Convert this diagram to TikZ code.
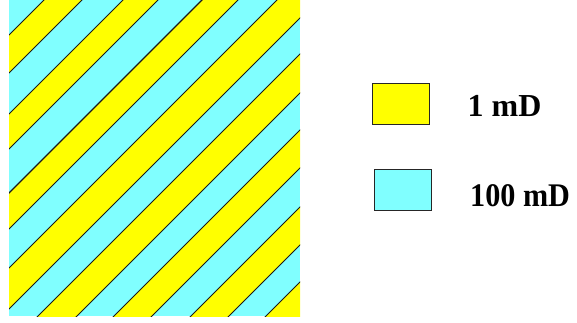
\documentclass[tikz,border=0pt]{standalone}
\usepackage{graphicx}
\usepackage{fontspec}
\setmainfont{Liberation Serif}
\definecolor{stripY}{HTML}{FFFF00}
\definecolor{stripC}{HTML}{80FFFF}
\begin{document}
\begin{tikzpicture}[x=1pt,y=-1pt,
  sepline/.style={black!90,line width=0.75pt},
  legbox/.style={draw=black!85,line width=0.9pt,minimum width=57pt,minimum height=41pt,inner sep=0pt},
  legtext/.style={anchor=base west,inner sep=0pt}]
\useasboundingbox (0,0) rectangle (577,322);
\begin{scope}
  \clip (9,0) rectangle (300,316);
  \fill[stripC] (9,0) rectangle (300,316);
  \foreach \a/\b in {44/82,123/158,202/238,277/318,354/393,430/468,507/545,582/800}{
    \fill[stripY] (\a+100,-100) -- (\b+100,-100) -- (\b-400,400) -- (\a-400,400) -- cycle;
  }
  \foreach \u in {44,82,123,158,238,277,318,354,393,430,468,507,545,582}{
    \draw[sepline] (\u+100,-100) -- (\u-400,400);
  }
  \draw[sepline,line width=1.4pt] (302,-100) -- (-198,400);
\end{scope}
\node[legbox,fill=stripY] (b1) at (401.3,103.8) {};
\node[legbox,fill=stripC] (b2) at (402.8,190) {};
\node[legtext] (t1) at (467.5,116.7) {\fontsize{32}{36}\selectfont\bfseries 1 mD};
\node[legtext] (t2) at (470,206) {\scalebox{0.915}[1]{\fontsize{33}{36}\selectfont\bfseries 100 mD}};
\end{tikzpicture}
\end{document}
